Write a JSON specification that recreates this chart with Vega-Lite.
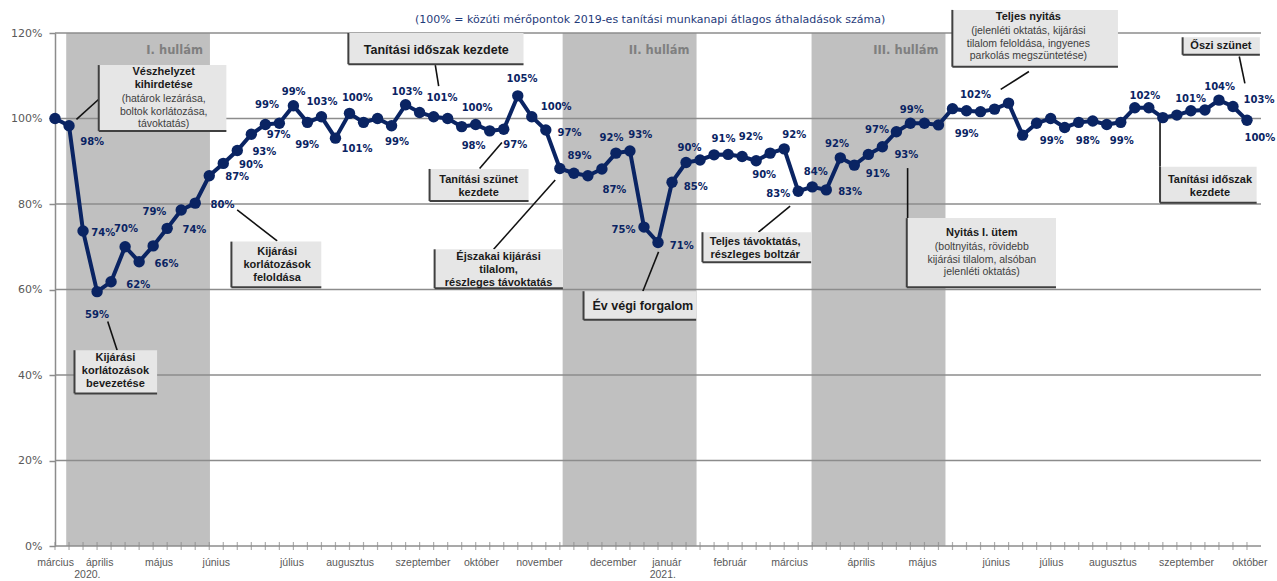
{
  "$schema": "https://vega.github.io/schema/vega-lite/v6.json",
  "width": 1206,
  "height": 513,
  "autosize": {"type": "none"},
  "padding": {"left": 55, "top": 33, "right": 16, "bottom": 35},
  "background": "white",
  "config": {"view": {"stroke": null}, "font": "DejaVu Sans",
    "axisY": {"grid": false, "domain": true, "domainColor": "#8C8C8C", "domainWidth": 1.5, "ticks": true, "tickSize": 6, "tickColor": "#8C8C8C", "tickWidth": 1.5, "labelFont": "DejaVu Sans", "labelFontSize": 11, "labelColor": "#595959", "labelPadding": 7}},
  "datasets": {
    "series": [
      {"week": 0, "value": 100.0}, {"week": 1, "value": 98.3}, {"week": 2, "value": 73.7}, {"week": 3, "value": 59.5},
      {"week": 4, "value": 61.8}, {"week": 5, "value": 70.0}, {"week": 6, "value": 66.5}, {"week": 7, "value": 70.2},
      {"week": 8, "value": 74.3}, {"week": 9, "value": 78.6}, {"week": 10, "value": 80.2}, {"week": 11, "value": 86.6},
      {"week": 12, "value": 89.5}, {"week": 13, "value": 92.5}, {"week": 14, "value": 96.3}, {"week": 15, "value": 98.6},
      {"week": 16, "value": 98.9}, {"week": 17, "value": 103.0}, {"week": 18, "value": 99.1}, {"week": 19, "value": 100.4},
      {"week": 20, "value": 95.4}, {"week": 21, "value": 101.2}, {"week": 22, "value": 99.1}, {"week": 23, "value": 100.0},
      {"week": 24, "value": 98.3}, {"week": 25, "value": 103.2}, {"week": 26, "value": 101.4}, {"week": 27, "value": 100.4},
      {"week": 28, "value": 100.0}, {"week": 29, "value": 98.1}, {"week": 30, "value": 98.6}, {"week": 31, "value": 97.1},
      {"week": 32, "value": 97.5}, {"week": 33, "value": 105.3}, {"week": 34, "value": 100.4}, {"week": 35, "value": 97.3},
      {"week": 36, "value": 88.3}, {"week": 37, "value": 87.2}, {"week": 38, "value": 86.6}, {"week": 39, "value": 88.2},
      {"week": 40, "value": 91.9}, {"week": 41, "value": 92.4}, {"week": 42, "value": 74.6}, {"week": 43, "value": 71.0},
      {"week": 44, "value": 85.1}, {"week": 45, "value": 89.7}, {"week": 46, "value": 90.3}, {"week": 47, "value": 91.5},
      {"week": 48, "value": 91.6}, {"week": 49, "value": 91.1}, {"week": 50, "value": 90.1}, {"week": 51, "value": 91.9},
      {"week": 52, "value": 92.9}, {"week": 53, "value": 83.0}, {"week": 54, "value": 84.0}, {"week": 55, "value": 83.3},
      {"week": 56, "value": 90.8}, {"week": 57, "value": 89.1}, {"week": 58, "value": 91.6}, {"week": 59, "value": 93.4},
      {"week": 60, "value": 96.9}, {"week": 61, "value": 98.9}, {"week": 62, "value": 98.9}, {"week": 63, "value": 98.5},
      {"week": 64, "value": 102.3}, {"week": 65, "value": 101.8}, {"week": 66, "value": 101.6}, {"week": 67, "value": 102.2},
      {"week": 68, "value": 103.6}, {"week": 69, "value": 96.1}, {"week": 70, "value": 98.9}, {"week": 71, "value": 100.0},
      {"week": 72, "value": 97.9}, {"week": 73, "value": 99.1}, {"week": 74, "value": 99.4}, {"week": 75, "value": 98.6},
      {"week": 76, "value": 99.1}, {"week": 77, "value": 102.5}, {"week": 78, "value": 102.5}, {"week": 79, "value": 100.2},
      {"week": 80, "value": 100.8}, {"week": 81, "value": 101.8}, {"week": 82, "value": 102.0}, {"week": 83, "value": 104.3},
      {"week": 84, "value": 102.8}, {"week": 85, "value": 99.6}
    ],
    "labels": [
      {"x": 2.65, "y": 94.6, "t": "98%"}, {"x": 3.44, "y": 73.1, "t": "74%"}, {"x": 3.0, "y": 54.0, "t": "59%"},
      {"x": 5.06, "y": 74.2, "t": "70%"}, {"x": 5.94, "y": 61.1, "t": "62%"}, {"x": 7.95, "y": 66.0, "t": "66%"},
      {"x": 7.09, "y": 78.2, "t": "79%"}, {"x": 9.94, "y": 73.9, "t": "74%"}, {"x": 11.94, "y": 79.8, "t": "80%"},
      {"x": 12.99, "y": 86.4, "t": "87%"}, {"x": 13.98, "y": 89.1, "t": "90%"}, {"x": 14.93, "y": 92.2, "t": "93%"},
      {"x": 15.95, "y": 96.1, "t": "97%"}, {"x": 15.12, "y": 103.2, "t": "99%"}, {"x": 17.02, "y": 106.3, "t": "99%"},
      {"x": 19.04, "y": 103.9, "t": "103%"}, {"x": 17.98, "y": 93.8, "t": "99%"}, {"x": 21.54, "y": 92.9, "t": "101%"},
      {"x": 21.56, "y": 104.7, "t": "100%"}, {"x": 25.1, "y": 106.3, "t": "103%"}, {"x": 24.39, "y": 94.6, "t": "99%"},
      {"x": 27.6, "y": 104.9, "t": "101%"}, {"x": 30.1, "y": 102.5, "t": "100%"}, {"x": 29.85, "y": 93.6, "t": "98%"},
      {"x": 32.82, "y": 93.8, "t": "97%"}, {"x": 33.3, "y": 109.2, "t": "105%"}, {"x": 35.74, "y": 102.6, "t": "100%"},
      {"x": 36.69, "y": 96.6, "t": "97%"}, {"x": 37.4, "y": 91.2, "t": "89%"}, {"x": 39.69, "y": 95.4, "t": "92%"},
      {"x": 41.73, "y": 96.1, "t": "93%"}, {"x": 39.89, "y": 83.3, "t": "87%"}, {"x": 40.54, "y": 74.0, "t": "75%"},
      {"x": 44.7, "y": 70.2, "t": "71%"}, {"x": 45.25, "y": 93.0, "t": "90%"}, {"x": 45.69, "y": 83.9, "t": "85%"},
      {"x": 47.67, "y": 95.1, "t": "91%"}, {"x": 49.62, "y": 95.7, "t": "92%"}, {"x": 50.57, "y": 86.9, "t": "90%"},
      {"x": 52.72, "y": 96.1, "t": "92%"}, {"x": 51.57, "y": 82.4, "t": "83%"}, {"x": 54.25, "y": 87.6, "t": "84%"},
      {"x": 55.76, "y": 94.1, "t": "92%"}, {"x": 56.7, "y": 82.8, "t": "83%"}, {"x": 58.67, "y": 87.1, "t": "91%"},
      {"x": 58.62, "y": 97.2, "t": "97%"}, {"x": 60.71, "y": 91.4, "t": "93%"}, {"x": 61.1, "y": 102.0, "t": "99%"},
      {"x": 65.64, "y": 105.6, "t": "102%"}, {"x": 65.01, "y": 96.3, "t": "99%"}, {"x": 71.08, "y": 94.7, "t": "99%"},
      {"x": 73.65, "y": 94.7, "t": "98%"}, {"x": 76.07, "y": 94.7, "t": "99%"}, {"x": 77.72, "y": 105.3, "t": "102%"},
      {"x": 80.98, "y": 104.5, "t": "101%"}, {"x": 83.05, "y": 107.3, "t": "104%"}, {"x": 85.86, "y": 104.3, "t": "103%"},
      {"x": 85.92, "y": 95.5, "t": "100%"}
    ],
    "waves": [
      {"start": 0.8, "end": 11.05, "name": "I. hullám"},
      {"start": 36.2, "end": 45.75, "name": "II. hullám"},
      {"start": 53.95, "end": 63.5, "name": "III. hullám"}
    ],
    "grid": [{"y": 0}, {"y": 20}, {"y": 40}, {"y": 60}, {"y": 80}, {"y": 100}, {"y": 120}],
    "boxes": [
      {"x": 3.12, "x2": 12.22, "y": 97.1, "y2": 112.5},
      {"x": 20.92, "x2": 33.41, "y": 112.7, "y2": 120.0},
      {"x": 26.71, "x2": 33.77, "y": 80.7, "y2": 88.2},
      {"x": 27.07, "x2": 36.22, "y": 60.3, "y2": 69.4},
      {"x": 37.69, "x2": 45.72, "y": 52.9, "y2": 59.6},
      {"x": 46.17, "x2": 53.92, "y": 66.4, "y2": 73.4},
      {"x": 1.39, "x2": 7.28, "y": 35.7, "y2": 45.8},
      {"x": 12.58, "x2": 18.99, "y": 60.5, "y2": 71.2},
      {"x": 60.74, "x2": 71.38, "y": 60.5, "y2": 76.7},
      {"x": 63.99, "x2": 75.8, "y": 112.1, "y2": 125.4},
      {"x": 80.41, "x2": 85.92, "y": 114.9, "y2": 119.0},
      {"x": 78.8, "x2": 85.69, "y": 80.3, "y2": 88.7}
    ],
    "leaders": [
      {"x": 1.53, "y": 99.8, "x2": 3.12, "y2": 104.5},
      {"x": 27.12, "y": 112.5, "x2": 27.36, "y2": 107.6},
      {"x": 30.28, "y": 88.3, "x2": 31.87, "y2": 94.4},
      {"x": 35.67, "y": 85.6, "x2": 31.28, "y2": 69.4},
      {"x": 43.04, "y": 68.8, "x2": 41.92, "y2": 59.6},
      {"x": 52.42, "y": 79.5, "x2": 50.16, "y2": 73.4},
      {"x": 3.76, "y": 52.5, "x2": 4.43, "y2": 45.8},
      {"x": 12.99, "y": 78.6, "x2": 15.84, "y2": 71.4},
      {"x": 60.8, "y": 88.4, "x2": 60.8, "y2": 76.7},
      {"x": 67.44, "y": 106.8, "x2": 69.45, "y2": 111.0},
      {"x": 84.45, "y": 114.5, "x2": 84.85, "y2": 108.2},
      {"x": 78.8, "y": 99.6, "x2": 78.8, "y2": 88.7}
    ],
    "notesBold": [
      {"x": 7.75, "y": 110.9, "t": "Vészhelyzet\nkihirdetése"},
      {"x": 30.21, "y": 85.6, "t": "Tanítási szünet\nkezdete"},
      {"x": 31.63, "y": 67.7, "t": "Éjszakai kijárási\ntilalom,\nrészleges távoktatás"},
      {"x": 49.93, "y": 71.0, "t": "Teljes távoktatás,\nrészleges boltzár"},
      {"x": 4.31, "y": 43.9, "t": "Kijárási\nkorlátozások\nbevezetése"},
      {"x": 15.84, "y": 68.8, "t": "Kijárási\nkorlátozások\nfeloldása"},
      {"x": 66.09, "y": 73.3, "t": "Nyitás I. ütem"},
      {"x": 69.41, "y": 123.8, "t": "Teljes nyitás"},
      {"x": 83.14, "y": 117.0, "t": "Őszi szünet"},
      {"x": 82.36, "y": 85.6, "t": "Tanítási időszak\nkezdete"}
    ],
    "notesBig": [
      {"x": 27.19, "y": 116.0, "t": "Tanítási időszak kezdete"},
      {"x": 41.92, "y": 56.1, "t": "Év végi forgalom"}
    ],
    "notesNormal": [
      {"x": 7.75, "y": 104.6, "t": "(határok lezárása,\nboltok korlátozása,\ntávoktatás)"},
      {"x": 66.09, "y": 70.0, "t": "(boltnyitás, rövidebb\nkijárási tilalom, alsóban\njelenléti oktatás)"},
      {"x": 69.41, "y": 120.5, "t": "(jelenléti oktatás, kijárási\ntilalom feloldása, ingyenes\nparkolás megszüntetése)"}
    ],
    "titles": [
      {"x": 42.44, "y": 123.0, "t": "(100% = közúti mérőpontok 2019-es tanítási munkanapi átlagos áthaladások száma)"}
    ],
    "months": [
      {"x": 0.04, "t": "március"}, {"x": 3.19, "t": "április"}, {"x": 7.42, "t": "május"}, {"x": 11.5, "t": "június"},
      {"x": 16.9, "t": "július"}, {"x": 21.05, "t": "augusztus"}, {"x": 26.24, "t": "szeptember"}, {"x": 30.41, "t": "október"},
      {"x": 34.55, "t": "november"}, {"x": 39.81, "t": "december"}, {"x": 43.63, "t": "január"}, {"x": 48.15, "t": "február"},
      {"x": 52.38, "t": "március"}, {"x": 57.49, "t": "április"}, {"x": 61.87, "t": "május"}, {"x": 67.12, "t": "június"},
      {"x": 71.06, "t": "július"}, {"x": 75.44, "t": "augusztus"}, {"x": 80.69, "t": "szeptember"}, {"x": 85.21, "t": "október"}
    ],
    "years": [{"x": 2.31, "t": "2020."}, {"x": 43.34, "t": "2021."}]
  },
  "layer": [
    {
      "data": {"name": "waves"},
      "mark": {"type": "rect", "color": "#C0C0C0"},
      "encoding": {
        "x": {"field": "start", "type": "quantitative", "scale": {"domain": [0, 86], "nice": false, "zero": false}, "axis": null},
        "x2": {"field": "end"},
        "y": {"datum": 0, "type": "quantitative", "scale": {"domain": [0, 120], "nice": false, "zero": false}, "axis": {"values": [0, 20, 40, 60, 80, 100, 120], "labelExpr": "datum.value + '%'", "title": null}},
        "y2": {"datum": 120}
      }
    },
    {
      "data": {"name": "waves"},
      "mark": {"type": "text", "align": "right", "baseline": "middle", "dx": -7, "font": "DejaVu Sans", "fontWeight": "bold", "fontSize": 11.5, "color": "#7F7F7F"},
      "encoding": {
        "x": {"field": "end", "type": "quantitative", "scale": {"domain": [0, 86], "nice": false, "zero": false}, "axis": null},
        "y": {"datum": 115.9, "type": "quantitative", "scale": {"domain": [0, 120], "nice": false, "zero": false}, "axis": {"values": [0, 20, 40, 60, 80, 100, 120], "labelExpr": "datum.value + '%'", "title": null}},
        "text": {"field": "name"}
      }
    },
    {
      "data": {"name": "grid"},
      "mark": {"type": "rule", "color": "#8C8C8C", "strokeWidth": 1.5},
      "encoding": {
        "y": {"field": "y", "type": "quantitative", "scale": {"domain": [0, 120], "nice": false, "zero": false}, "axis": {"values": [0, 20, 40, 60, 80, 100, 120], "labelExpr": "datum.value + '%'", "title": null}}
      }
    },
    {
      "data": {"name": "series"},
      "mark": {"type": "tick", "orient": "vertical", "size": 8, "thickness": 1.2, "color": "#8C8C8C"},
      "encoding": {
        "x": {"field": "week", "type": "quantitative", "scale": {"domain": [0, 86], "nice": false, "zero": false}, "axis": null},
        "y": {"datum": 0, "type": "quantitative", "scale": {"domain": [0, 120], "nice": false, "zero": false}, "axis": {"values": [0, 20, 40, 60, 80, 100, 120], "labelExpr": "datum.value + '%'", "title": null}}
      }
    },
    {
      "data": {"name": "leaders"},
      "mark": {"type": "rule", "color": "#111111", "strokeWidth": 1.6},
      "encoding": {
        "x": {"field": "x", "type": "quantitative", "scale": {"domain": [0, 86], "nice": false, "zero": false}, "axis": null},
        "x2": {"field": "x2"},
        "y": {"field": "y", "type": "quantitative", "scale": {"domain": [0, 120], "nice": false, "zero": false}, "axis": {"values": [0, 20, 40, 60, 80, 100, 120], "labelExpr": "datum.value + '%'", "title": null}},
        "y2": {"field": "y2"}
      }
    },
    {
      "data": {"name": "boxes"},
      "mark": {"type": "rect", "color": "#E6E6E6"},
      "encoding": {
        "x": {"field": "x", "type": "quantitative", "scale": {"domain": [0, 86], "nice": false, "zero": false}, "axis": null},
        "x2": {"field": "x2"},
        "y": {"field": "y", "type": "quantitative", "scale": {"domain": [0, 120], "nice": false, "zero": false}, "axis": {"values": [0, 20, 40, 60, 80, 100, 120], "labelExpr": "datum.value + '%'", "title": null}},
        "y2": {"field": "y2"}
      }
    },
    {
      "data": {"name": "boxes"},
      "mark": {"type": "rule", "color": "#404040", "strokeWidth": 2},
      "encoding": {
        "x": {"field": "x", "type": "quantitative", "scale": {"domain": [0, 86], "nice": false, "zero": false}, "axis": null},
        "y": {"field": "y", "type": "quantitative", "scale": {"domain": [0, 120], "nice": false, "zero": false}, "axis": {"values": [0, 20, 40, 60, 80, 100, 120], "labelExpr": "datum.value + '%'", "title": null}},
        "y2": {"field": "y2"}
      }
    },
    {
      "data": {"name": "boxes"},
      "mark": {"type": "rule", "color": "#404040", "strokeWidth": 2},
      "encoding": {
        "x": {"field": "x", "type": "quantitative", "scale": {"domain": [0, 86], "nice": false, "zero": false}, "axis": null},
        "x2": {"field": "x2"},
        "y": {"field": "y", "type": "quantitative", "scale": {"domain": [0, 120], "nice": false, "zero": false}, "axis": {"values": [0, 20, 40, 60, 80, 100, 120], "labelExpr": "datum.value + '%'", "title": null}}
      }
    },
    {
      "data": {"name": "notesBold"},
      "mark": {"type": "text", "align": "center", "baseline": "middle", "lineBreak": "\n", "lineHeight": 13, "font": "Liberation Sans", "fontWeight": "bold", "fontSize": 11, "color": "#1A1A1A"},
      "encoding": {
        "x": {"field": "x", "type": "quantitative", "scale": {"domain": [0, 86], "nice": false, "zero": false}, "axis": null},
        "y": {"field": "y", "type": "quantitative", "scale": {"domain": [0, 120], "nice": false, "zero": false}, "axis": {"values": [0, 20, 40, 60, 80, 100, 120], "labelExpr": "datum.value + '%'", "title": null}},
        "text": {"field": "t"}
      }
    },
    {
      "data": {"name": "notesBig"},
      "mark": {"type": "text", "align": "center", "baseline": "middle", "font": "Liberation Sans", "fontWeight": "bold", "fontSize": 12.5, "color": "#1A1A1A"},
      "encoding": {
        "x": {"field": "x", "type": "quantitative", "scale": {"domain": [0, 86], "nice": false, "zero": false}, "axis": null},
        "y": {"field": "y", "type": "quantitative", "scale": {"domain": [0, 120], "nice": false, "zero": false}, "axis": {"values": [0, 20, 40, 60, 80, 100, 120], "labelExpr": "datum.value + '%'", "title": null}},
        "text": {"field": "t"}
      }
    },
    {
      "data": {"name": "notesNormal"},
      "mark": {"type": "text", "align": "center", "baseline": "middle", "lineBreak": "\n", "lineHeight": 12.8, "font": "Liberation Sans", "fontSize": 10.5, "color": "#404040"},
      "encoding": {
        "x": {"field": "x", "type": "quantitative", "scale": {"domain": [0, 86], "nice": false, "zero": false}, "axis": null},
        "y": {"field": "y", "type": "quantitative", "scale": {"domain": [0, 120], "nice": false, "zero": false}, "axis": {"values": [0, 20, 40, 60, 80, 100, 120], "labelExpr": "datum.value + '%'", "title": null}},
        "text": {"field": "t"}
      }
    },
    {
      "data": {"name": "titles"},
      "mark": {"type": "text", "align": "center", "baseline": "middle", "font": "DejaVu Sans", "fontSize": 11, "color": "#1F3B7A"},
      "encoding": {
        "x": {"field": "x", "type": "quantitative", "scale": {"domain": [0, 86], "nice": false, "zero": false}, "axis": null},
        "y": {"field": "y", "type": "quantitative", "scale": {"domain": [0, 120], "nice": false, "zero": false}, "axis": {"values": [0, 20, 40, 60, 80, 100, 120], "labelExpr": "datum.value + '%'", "title": null}},
        "text": {"field": "t"}
      }
    },
    {
      "data": {"name": "series"},
      "mark": {"type": "line", "color": "#0A2463", "strokeWidth": 4, "point": {"filled": true, "size": 130, "color": "#0A2463"}},
      "encoding": {
        "x": {"field": "week", "type": "quantitative", "scale": {"domain": [0, 86], "nice": false, "zero": false}, "axis": null},
        "y": {"field": "value", "type": "quantitative", "scale": {"domain": [0, 120], "nice": false, "zero": false}, "axis": {"values": [0, 20, 40, 60, 80, 100, 120], "labelExpr": "datum.value + '%'", "title": null}}
      }
    },
    {
      "data": {"name": "labels"},
      "mark": {"type": "text", "align": "center", "baseline": "middle", "font": "DejaVu Sans", "fontWeight": "bold", "fontSize": 10, "color": "#0A2463"},
      "encoding": {
        "x": {"field": "x", "type": "quantitative", "scale": {"domain": [0, 86], "nice": false, "zero": false}, "axis": null},
        "y": {"field": "y", "type": "quantitative", "scale": {"domain": [0, 120], "nice": false, "zero": false}, "axis": {"values": [0, 20, 40, 60, 80, 100, 120], "labelExpr": "datum.value + '%'", "title": null}},
        "text": {"field": "t"}
      }
    },
    {
      "data": {"name": "months"},
      "mark": {"type": "text", "align": "center", "baseline": "middle", "dy": 17, "font": "Liberation Sans", "fontSize": 10.5, "color": "#595959"},
      "encoding": {
        "x": {"field": "x", "type": "quantitative", "scale": {"domain": [0, 86], "nice": false, "zero": false}, "axis": null},
        "y": {"datum": 0, "type": "quantitative", "scale": {"domain": [0, 120], "nice": false, "zero": false}, "axis": {"values": [0, 20, 40, 60, 80, 100, 120], "labelExpr": "datum.value + '%'", "title": null}},
        "text": {"field": "t"}
      }
    },
    {
      "data": {"name": "years"},
      "mark": {"type": "text", "align": "center", "baseline": "middle", "dy": 29, "font": "Liberation Sans", "fontSize": 10.5, "color": "#595959"},
      "encoding": {
        "x": {"field": "x", "type": "quantitative", "scale": {"domain": [0, 86], "nice": false, "zero": false}, "axis": null},
        "y": {"datum": 0, "type": "quantitative", "scale": {"domain": [0, 120], "nice": false, "zero": false}, "axis": {"values": [0, 20, 40, 60, 80, 100, 120], "labelExpr": "datum.value + '%'", "title": null}},
        "text": {"field": "t"}
      }
    },
    {
      "mark": {"type": "point", "shape": "triangle-up", "filled": true, "size": 35, "color": "#8C8C8C", "yOffset": -3},
      "encoding": {
        "x": {"datum": 0, "type": "quantitative", "scale": {"domain": [0, 86], "nice": false, "zero": false}, "axis": null},
        "y": {"datum": 120, "type": "quantitative", "scale": {"domain": [0, 120], "nice": false, "zero": false}, "axis": {"values": [0, 20, 40, 60, 80, 100, 120], "labelExpr": "datum.value + '%'", "title": null}}
      }
    }
  ]
}
